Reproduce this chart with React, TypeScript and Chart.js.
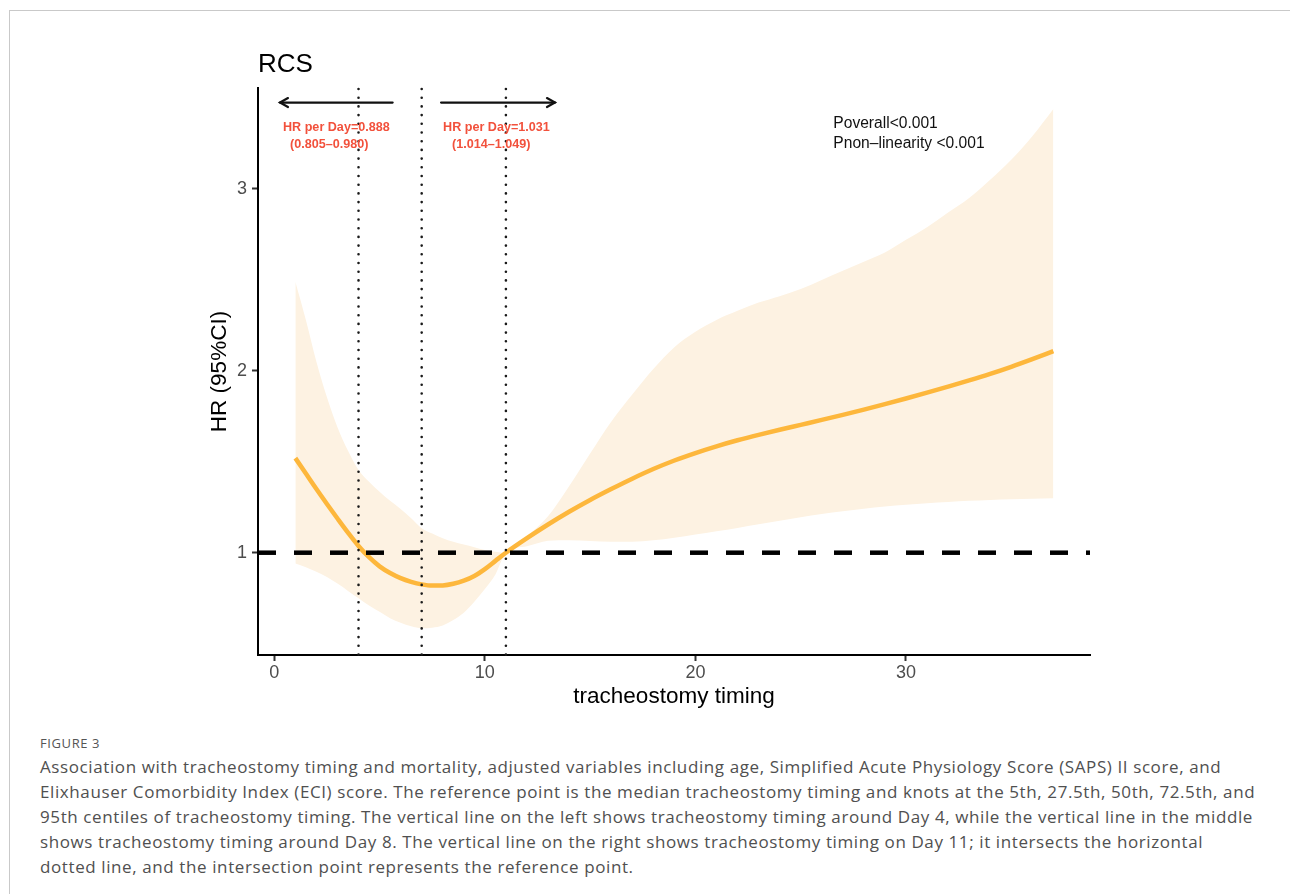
import React, { useEffect, useRef } from "react";
import { Chart, registerables } from "chart.js";

Chart.register(...registerables);

// ---------- data ----------
const timing = [
  1, 1.5, 2, 2.5, 3, 3.5, 4, 4.5, 5, 5.5, 6, 6.5, 7, 7.5, 8, 8.5, 9, 9.5, 10, 10.5, 11,
  12, 13, 14, 15, 16, 17, 18, 19, 20, 21, 22, 23, 24, 25, 26, 27, 28, 29, 30, 31, 32,
  33, 34, 35, 36, 37,
];
const hr = [
  1.52, 1.435, 1.35, 1.268, 1.188, 1.11, 1.037, 0.975, 0.925, 0.888, 0.86, 0.84, 0.826,
  0.819, 0.82, 0.829, 0.846, 0.872, 0.91, 0.955, 1.0,
  1.08, 1.155, 1.225, 1.29, 1.35, 1.407, 1.46, 1.507, 1.548, 1.585, 1.618, 1.648, 1.676,
  1.703, 1.73, 1.758, 1.787, 1.817, 1.848, 1.88, 1.913, 1.947, 1.983, 2.022, 2.064, 2.108,
];
const hrUpper = [
  2.49, 2.28, 2.05, 1.855, 1.69, 1.56, 1.455, 1.39, 1.335, 1.285, 1.24, 1.19, 1.135,
  1.105, 1.08, 1.06, 1.045, 1.03, 1.015, 1.005, 1.0,
  1.09, 1.2, 1.365, 1.545, 1.72, 1.87, 2.01, 2.13, 2.215, 2.28, 2.33, 2.375, 2.41,
  2.45, 2.5, 2.55, 2.6, 2.65, 2.72, 2.79, 2.87, 2.95, 3.05, 3.16, 3.29, 3.44,
];
const hrLower = [
  0.94, 0.92, 0.895, 0.866, 0.83, 0.79, 0.75, 0.71, 0.675, 0.64, 0.615, 0.595, 0.585,
  0.588, 0.6, 0.63, 0.67, 0.73, 0.8, 0.88, 1.0,
  1.035, 1.065, 1.068, 1.064, 1.06, 1.06, 1.068, 1.082, 1.1, 1.118, 1.136, 1.156, 1.176,
  1.195, 1.213, 1.228, 1.242, 1.254, 1.264, 1.272, 1.279, 1.285, 1.29, 1.294, 1.297, 1.3,
];

const xTickValues = [0, 10, 20, 30];
const yTickValues = [1, 2, 3];
const xRange = [-0.774, 38.74];
const yRange = [0.4375, 3.555];

const referenceHR = 1;
const knotLines = [4, 7, 11];

// arrows: start -> tip (data units), at a common HR level
const arrowStart = [5.62, 7.92];
const arrowTip = [0.27, 13.33];
const arrowLevel = 3.475;

const effectText = ["HR per Day=0.888", "HR per Day=1.031"];
const effectCI = ["(0.805\u20130.980)", "(1.014\u20131.049)"];
const effectTextX = [0.413, 8.015];
const effectCIX = [0.746, 8.44];
const effectTextY = 3.34;
const effectCIY = 3.245;

const pText = ["Poverall<0.001", "Pnon\u2013linearity <0.001"];
const pTextX = 26.55;
const pTextY = [3.357, 3.247];

const chartTitle = "RCS";
const xTitle = "tracheostomy timing";
const yTitle = "HR (95%CI)";

const captionHead = "FIGURE 3";
const captionLines = [
  "Association with tracheostomy timing and mortality, adjusted variables including age, Simplified Acute Physiology Score (SAPS) II score, and",
  "Elixhauser Comorbidity Index (ECI) score. The reference point is the median tracheostomy timing and knots at the 5th, 27.5th, 50th, 72.5th, and",
  "95th centiles of tracheostomy timing. The vertical line on the left shows tracheostomy timing around Day 4, while the vertical line in the middle",
  "shows tracheostomy timing around Day 8. The vertical line on the right shows tracheostomy timing on Day 11; it intersects the horizontal",
  "dotted line, and the intersection point represents the reference point.",
];

const FONT = '"Liberation Sans", Arial, Helvetica, sans-serif';

const annotationPlugin = {
  id: "rcsAnnotations",
  afterDatasetsDraw(chart: any) {
    const { ctx, chartArea: ca, scales } = chart;
    const xs = scales.x;
    const ys = scales.y;
    ctx.save();

    // reference horizontal dashed line
    const yRef = ys.getPixelForValue(referenceHR);
    ctx.save();
    ctx.beginPath();
    ctx.rect(ca.left, ca.top, ca.right - ca.left, ca.bottom - ca.top);
    ctx.clip();
    ctx.strokeStyle = "#000";
    ctx.lineWidth = 4.5;
    ctx.setLineDash([18, 18]);
    ctx.lineCap = "butt";
    ctx.beginPath();
    ctx.moveTo(ca.left, yRef);
    ctx.lineTo(ca.right, yRef);
    ctx.stroke();
    ctx.restore();

    // dotted vertical lines
    ctx.save();
    ctx.strokeStyle = "#1a1a1a";
    ctx.lineWidth = 2.6;
    ctx.lineCap = "round";
    ctx.setLineDash([0, 8.7]);
    knotLines.forEach((k) => {
      const px = xs.getPixelForValue(k);
      ctx.beginPath();
      ctx.moveTo(px, ca.top + 1);
      ctx.lineTo(px, ca.bottom);
      ctx.stroke();
    });
    ctx.restore();

    // arrows
    ctx.save();
    ctx.strokeStyle = "#111";
    ctx.lineWidth = 2.2;
    ctx.lineCap = "round";
    ctx.lineJoin = "miter";
    const ay = ys.getPixelForValue(arrowLevel);
    arrowStart.forEach((s, i) => {
      const x0 = xs.getPixelForValue(s);
      const x1 = xs.getPixelForValue(arrowTip[i]);
      const dir = x1 > x0 ? 1 : -1;
      ctx.beginPath();
      ctx.moveTo(x0, ay);
      ctx.lineTo(x1, ay);
      ctx.stroke();
      ctx.beginPath();
      ctx.moveTo(x1 - dir * 8, ay - 4.5);
      ctx.lineTo(x1, ay);
      ctx.lineTo(x1 - dir * 8, ay + 4.5);
      ctx.stroke();
    });
    ctx.restore();

    // red effect labels
    ctx.fillStyle = "#F2513C";
    ctx.font = `bold 12.6px ${FONT}`;
    ctx.textAlign = "left";
    ctx.textBaseline = "middle";
    effectText.forEach((t, i) => {
      ctx.fillText(t, xs.getPixelForValue(effectTextX[i]), ys.getPixelForValue(effectTextY));
      ctx.fillText(effectCI[i], xs.getPixelForValue(effectCIX[i]), ys.getPixelForValue(effectCIY));
    });

    // p-values
    ctx.fillStyle = "#111";
    ctx.font = `15.6px ${FONT}`;
    pText.forEach((t, i) => {
      ctx.fillText(t, xs.getPixelForValue(pTextX), ys.getPixelForValue(pTextY[i]));
    });

    // title
    ctx.fillStyle = "#000";
    ctx.font = `26px ${FONT}`;
    ctx.textBaseline = "middle";
    ctx.fillText(chartTitle, ca.left, ca.top - 23);

    ctx.restore();
  },
};

export default function App() {
  const ref = useRef<HTMLCanvasElement>(null);

  useEffect(() => {
    if (!ref.current) return;
    const pts = (vals: number[]) => timing.map((t, i) => ({ x: t, y: vals[i] }));
    const chart = new Chart(ref.current, {
      type: "line",
      data: {
        datasets: [
          {
            label: "curve",
            data: pts(hr),
            borderColor: "#FDB73C",
            borderWidth: 4.5,
            pointRadius: 0,
            fill: false,
            cubicInterpolationMode: "monotone",
            order: 0,
          },
          {
            label: "upper",
            data: pts(hrUpper),
            borderWidth: 0,
            borderColor: "rgba(0,0,0,0)",
            backgroundColor: "#FDF2E2",
            pointRadius: 0,
            fill: "+1",
            cubicInterpolationMode: "monotone",
            order: 1,
          },
          {
            label: "lower",
            data: pts(hrLower),
            borderWidth: 0,
            borderColor: "rgba(0,0,0,0)",
            pointRadius: 0,
            fill: false,
            cubicInterpolationMode: "monotone",
            order: 2,
          },
        ],
      },
      options: {
        animation: false,
        responsive: false,
        devicePixelRatio: 1,
        layout: { padding: { left: 178, right: 200, top: 88, bottom: 0 } },
        plugins: {
          legend: { display: false },
          tooltip: { enabled: false },
          title: { display: false },
        },
        scales: {
          x: {
            type: "linear",
            min: xRange[0],
            max: xRange[1],
            afterBuildTicks: (s: any) => {
              s.ticks = xTickValues.map((v) => ({ value: v }));
            },
            afterFit: (s: any) => {
              s.height = 65;
            },
            ticks: {
              font: { family: FONT, size: 18 },
              color: "#4D4D4D",
              padding: 1.5,
              maxRotation: 0,
            },
            grid: {
              display: true,
              drawOnChartArea: false,
              drawTicks: true,
              tickLength: 6,
              tickColor: "#333",
              tickWidth: 2,
            },
            border: { display: true, color: "#000", width: 2 },
            title: {
              display: true,
              text: xTitle,
              color: "#000",
              font: { family: FONT, size: 22.5 },
              padding: { top: 0, bottom: 9.5 },
            },
          },
          y: {
            type: "linear",
            min: yRange[0],
            max: yRange[1],
            afterBuildTicks: (s: any) => {
              s.ticks = yTickValues.map((v) => ({ value: v }));
            },
            afterFit: (s: any) => {
              s.width = 80;
            },
            ticks: {
              font: { family: FONT, size: 18 },
              color: "#4D4D4D",
              padding: 5,
            },
            grid: {
              display: true,
              drawOnChartArea: false,
              drawTicks: true,
              tickLength: 6,
              tickColor: "#333",
              tickWidth: 2,
            },
            border: { display: true, color: "#000", width: 2 },
            title: {
              display: true,
              text: yTitle,
              color: "#000",
              font: { family: FONT, size: 22.5 },
              padding: { top: 28.5, bottom: 0 },
            },
          },
        },
      },
      plugins: [annotationPlugin],
    } as any);
    return () => chart.destroy();
  }, []);

  return (
    <div>
      <div
        style={{
          position: "absolute",
          left: 9,
          top: 10,
          width: 1281,
          height: 884,
          borderLeft: "1px solid #c9c9c9",
          borderTop: "1px solid #c9c9c9",
          boxSizing: "border-box",
        }}
      />
      <canvas
        ref={ref}
        width={1290}
        height={720}
        style={{ position: "absolute", left: 0, top: 0, width: 1290, height: 720 }}
      />
      <div
        style={{
          position: "absolute",
          left: 40,
          top: 734,
          fontFamily: '"Open Sans", sans-serif',
          fontSize: 13,
          color: "#555",
          letterSpacing: "0.6px",
          whiteSpace: "nowrap",
        }}
      >
        {captionHead}
      </div>
      <div
        style={{
          position: "absolute",
          left: 40,
          top: 753.5,
          fontFamily: '"Open Sans", sans-serif',
          fontSize: 17,
          lineHeight: "25px",
          color: "#505050",
          letterSpacing: "0.6px",
          whiteSpace: "nowrap",
        }}
      >
        {captionLines.map((l, i) => (
          <div key={i}>{l}</div>
        ))}
      </div>
    </div>
  );
}
